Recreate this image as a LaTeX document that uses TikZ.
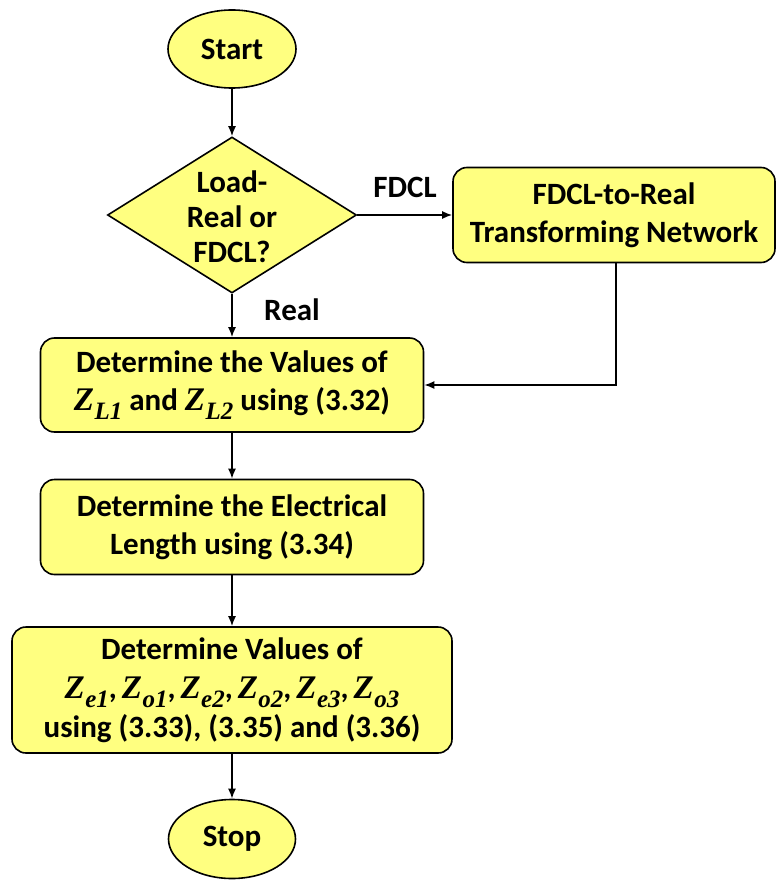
\documentclass[tikz,border=0pt]{standalone}
\usepackage{fontspec}
\setmainfont{Carlito}
\newfontfamily\serz{Liberation Serif}
\usetikzlibrary{shapes.geometric,arrows.meta}
\definecolor{boxfill}{RGB}{255,255,128}
% bold italic impedance symbol Z with a subscript
\newcommand{\zs}[1]{{\serz\bfseries\itshape\fontsize{33}{33}\selectfont Z\kern0.5pt\raisebox{-0.28em}{\fontsize{25}{25}\selectfont #1}}}
\newcommand{\zc}{,\kern5pt}
\tikzset{
  base/.style={draw=black, line width=1.6pt, fill=boxfill, font=\bfseries\fontsize{31}{38}\selectfont, align=center, inner sep=0pt},
  term/.style={base, ellipse},
  proc/.style={base, rectangle, rounded corners=14pt},
  dec/.style={base, diamond},
  flow/.style={line width=1.6pt, -{Latex[length=10pt,width=8pt]}},
  tag/.style={font=\bfseries\fontsize{31}{31}\selectfont}
}
\begin{document}
\begin{tikzpicture}[x=1pt,y=-1pt]
\useasboundingbox (0,0) rectangle (776,882);
\node[term, minimum width=128pt, minimum height=78pt] (start) at (232,49) {Start};
\node[dec, minimum width=249pt, minimum height=156pt] (choice) at (232,215) {};
\node[font=\bfseries\fontsize{31}{35}\selectfont, align=center] (choicetxt) at (232,217) {Load-\\Real or\\FDCL?};
\node[proc, minimum width=322pt, minimum height=95pt] (xform) at (614,215) {FDCL-to-Real\\Transforming Network};
\node[proc, minimum width=383pt, minimum height=94pt] (zl) at (232,385) {Determine the Values of\\\zs{L1} and \zs{L2} using (3.32)};
\node[proc, minimum width=383pt, minimum height=95pt] (elen) at (232,527) {Determine the Electrical\\Length using (3.34)};
\node[proc, minimum width=440pt, minimum height=126pt, font=\bfseries\fontsize{31}{39}\selectfont] (zeo) at (232,690) {Determine Values of\\\zs{e1}\zc\zs{o1}\zc\zs{e2}\zc\zs{o2}\zc\zs{e3}\zc\zs{o3}\\using (3.33), (3.35) and (3.36)};
\node[term, minimum width=127pt, minimum height=79pt] (stop) at (232,839) {Stop};
\node[tag] (lfdcl) at (405,187) {FDCL};
\node[tag] (lreal) at (292,310) {Real};
\draw[flow] (start) -- (choice);
\draw[flow] (choice.east) -- (xform.west);
\draw[flow] (choice.south) -- (zl.north);
\draw[flow] (xform.south -| 616,0) |- (zl.east);
\draw[flow] (zl) -- (elen);
\draw[flow] (elen) -- (zeo);
\draw[flow] (zeo) -- (stop);
\end{tikzpicture}
\end{document}
